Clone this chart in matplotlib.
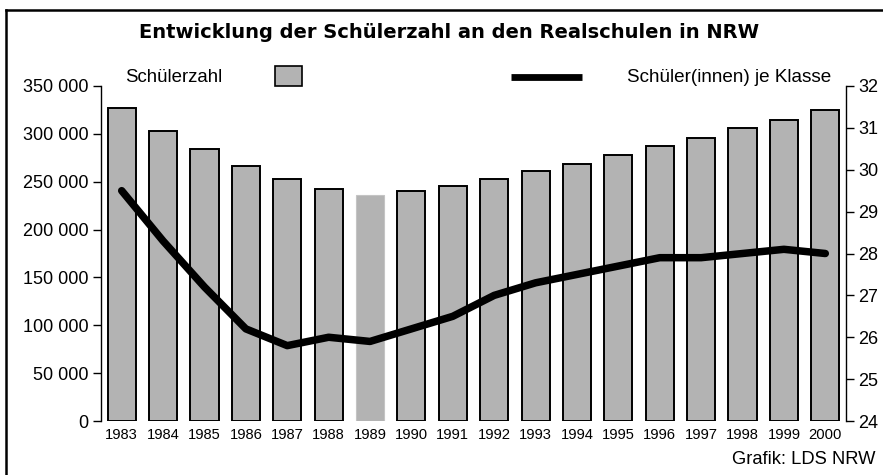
import matplotlib
matplotlib.use("Agg")
import matplotlib.pyplot as plt
from matplotlib.lines import Line2D
from matplotlib.patches import Rectangle

years = [str(y) for y in range(1983, 2001)]
schueler = [326500, 303500, 284000, 266500, 252500, 242000, 236500, 240500,
            245500, 252500, 261000, 268500, 278000, 287000, 295500, 306000,
            315000, 325000]
je_klasse = [29.5, 28.3, 27.2, 26.2, 25.8, 26.0, 25.9, 26.2, 26.5, 27.0,
             27.3, 27.5, 27.7, 27.9, 27.9, 28.0, 28.1, 28.0]
left_ticks = [0, 50000, 100000, 150000, 200000, 250000, 300000, 350000]
left_labels = ["0", "50 000", "100 000", "150 000", "200 000", "250 000",
               "300 000", "350 000"]
right_ticks = [24, 25, 26, 27, 28, 29, 30, 31, 32]

W, H = 883, 475
plt.rcParams['font.family'] = ['Liberation Sans', 'DejaVu Sans']
fig = plt.figure(figsize=(W / 100, H / 100), dpi=100)

def fx(px):
    return px / W

def fy(py):
    return 1 - py / H

ax = fig.add_axes([fx(101), fy(421), fx(846) - fx(101), fy(86) - fy(421)])
x = list(range(len(years)))
colors = ['#b3b3b3'] * len(years)
edges = ['black'] * len(years)
lws = [1.4] * len(years)
edges[6] = '#c4c4c4'
lws[6] = 0.8
ax.bar(x, schueler, width=0.68, color=colors, edgecolor=edges, linewidth=lws, zorder=2)
ax.set_xlim(-0.5, len(years) - 0.5)
ax.set_ylim(0, 350000)
ax.set_yticks(left_ticks)
ax.set_yticklabels(left_labels, fontsize=13)
ax.set_xticks(x)
ax.set_xticklabels(years, fontsize=10.6)
ax.tick_params(axis='x', length=0, pad=5)
ax.tick_params(axis='y', direction='out', length=6, width=1, pad=3)
for s in ['top', 'right', 'bottom']:
    ax.spines[s].set_visible(False)
ax.spines['left'].set_linewidth(1)

ax2 = ax.twinx()
ax2.plot(x, je_klasse, color='black', linewidth=5.4, solid_capstyle='round',
         solid_joinstyle='round', zorder=3)
ax2.set_ylim(24, 32)
ax2.set_yticks(right_ticks)
ax2.set_yticklabels([str(t) for t in right_ticks], fontsize=13)
ax2.tick_params(axis='y', direction='out', length=6, width=1, pad=3)
for s in ['top', 'left', 'bottom']:
    ax2.spines[s].set_visible(False)
ax2.spines['right'].set_linewidth(1)

# outer frame (top and left edges)
fig.add_artist(Line2D([fx(6), 1.01], [fy(10), fy(10)], color='black', linewidth=1.8))
fig.add_artist(Line2D([fx(6), fx(6)], [fy(10), -0.01], color='black', linewidth=1.8))

fig.text(fx(449), fy(33), "Entwicklung der Schülerzahl an den Realschulen in NRW",
         ha='center', va='center', fontsize=14, fontweight='bold',
         family=['DejaVu Sans'])
fig.text(fx(125), fy(77), "Schülerzahl", ha='left', va='center', fontsize=13.4)
fig.add_artist(Rectangle((fx(275), fy(86)), fx(302) - fx(275), fy(66) - fy(86),
                         facecolor='#b3b3b3', edgecolor='black', linewidth=1.2,
                         transform=fig.transFigure))
fig.add_artist(Line2D([fx(511), fx(582)], [fy(77), fy(77)], color='black',
                      linewidth=4.9, solid_capstyle='butt'))
fig.text(fx(627), fy(77), "Schüler(innen) je Klasse", ha='left', va='center', fontsize=13.6)
fig.text(fx(875), fy(460), "Grafik: LDS NRW", ha='right', va='center', fontsize=13.2)

fig.savefig("out.png", dpi=100)
